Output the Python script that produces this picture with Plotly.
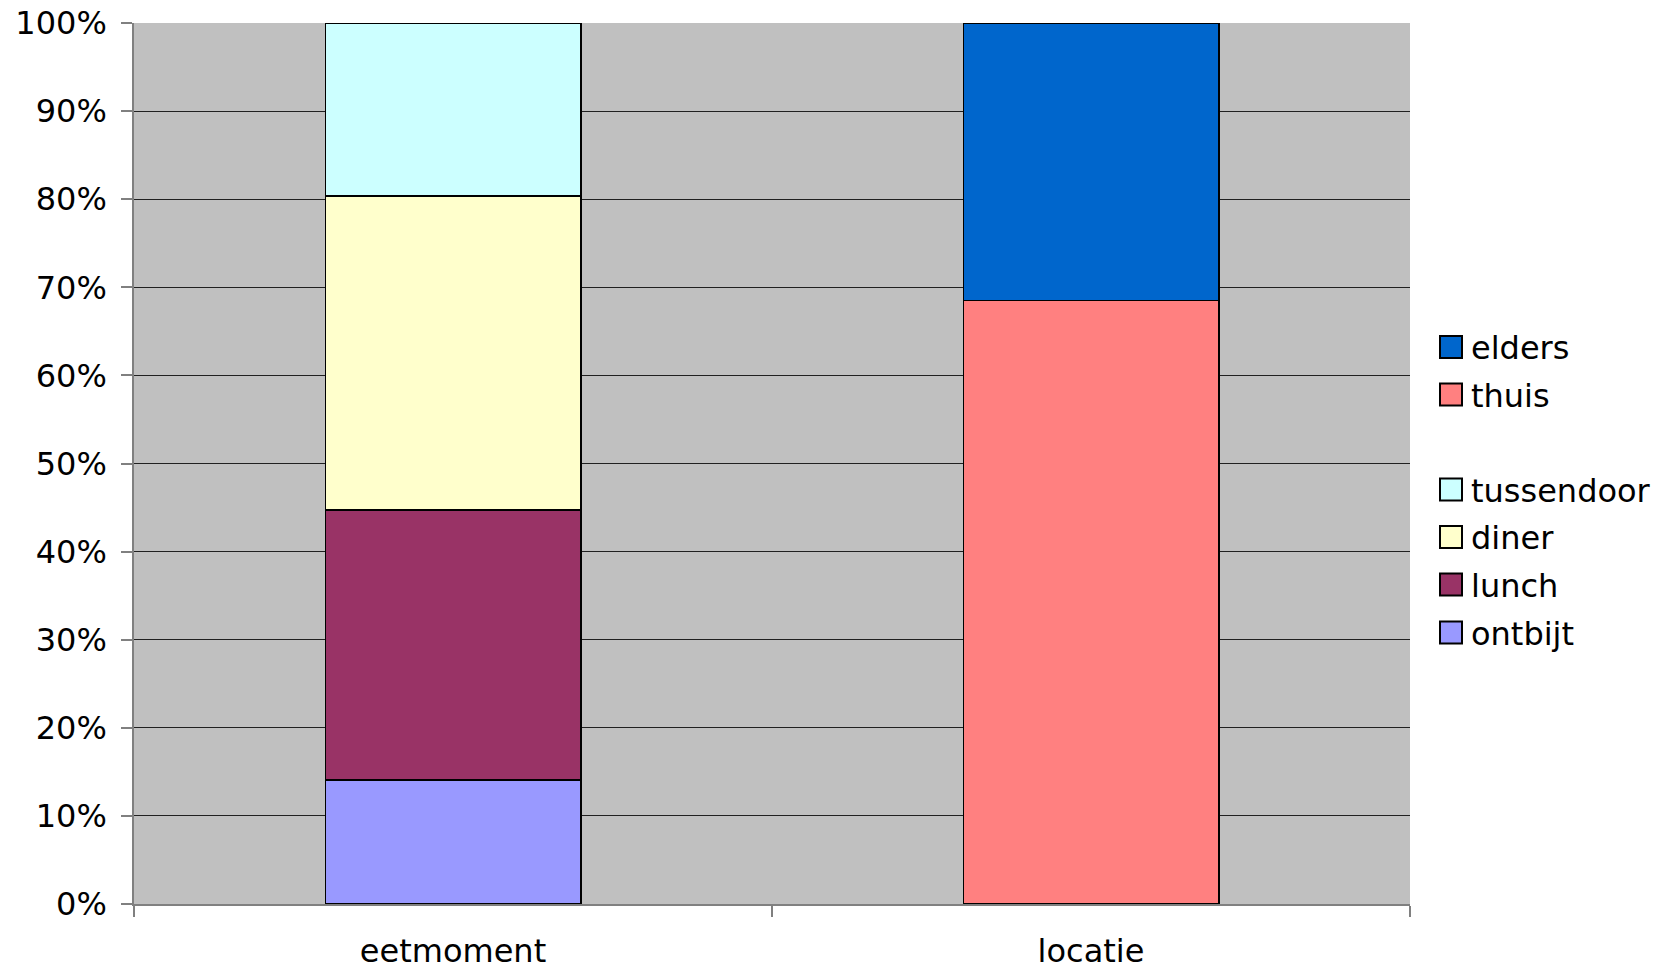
import plotly.graph_objects as go

categories = ["eetmoment", "locatie"]
ontbijt = [0.141, 0.0]
lunch = [0.306, 0.0]
diner = [0.357, 0.0]
tussendoor = [0.196, 0.0]
thuis = [0.0, 0.685]
elders = [0.0, 0.315]

series = [
    ("ontbijt", ontbijt, "#9999FF"),
    ("lunch", lunch, "#993366"),
    ("diner", diner, "#FFFFCC"),
    ("tussendoor", tussendoor, "#CCFFFF"),
    ("thuis", thuis, "#FF8080"),
    ("elders", elders, "#0066CC"),
]

W, H = 1654, 971
L, R, T, B = 134, 244, 23, 67
pw = W - L - R
ph = H - T - B

font_family = "DejaVu Sans"
fsize = 32

# legend item centres (pixels from top) and left edge
legend_y_px = {"elders": 347, "thuis": 394.5, "tussendoor": 489.5,
               "diner": 537, "lunch": 584.5, "ontbijt": 632.5}
legend_left_px = 1431
sym_cx = 1451
sym_half = 11

fig = go.Figure()
layout_legends = {}
shapes = []
for i, (name, vals, col) in enumerate(series):
    lg = "legend" if i == 0 else f"legend{i+1}"
    fig.add_trace(go.Bar(
        x=categories, y=vals, name=name,
        marker=dict(color=col, line=dict(color="black", width=1.8)),
        showlegend=False, width=0.4,
    ))
    fig.add_trace(go.Scatter(
        x=[None], y=[None], mode="markers", name=name,
        marker=dict(symbol="square", size=16, color="rgba(0,0,0,0)",
                    line=dict(color="rgba(0,0,0,0)", width=0)),
        legend=lg, showlegend=True,
    ))
    yc = legend_y_px[name]
    layout_legends[lg] = dict(
        x=(legend_left_px - L) / pw,
        y=(H - B - yc) / ph,
        xanchor="left", yanchor="middle",
        bgcolor="rgba(0,0,0,0)",
        font=dict(family=font_family, size=fsize, color="black"),
        itemwidth=30,
    )
    shapes.append(dict(
        type="rect", xref="paper", yref="paper",
        x0=(sym_cx - sym_half - L) / pw, x1=(sym_cx + sym_half - L) / pw,
        y0=(H - B - yc - sym_half) / ph, y1=(H - B - yc + sym_half) / ph,
        fillcolor=col, line=dict(color="black", width=2),
    ))

fig.update_layout(
    width=W, height=H,
    margin=dict(l=L, r=R, t=T, b=B, autoexpand=False),
    barmode="stack",
    bargap=0.6,
    paper_bgcolor="white",
    plot_bgcolor="#C0C0C0",
    font=dict(family=font_family, size=fsize, color="black"),
    shapes=shapes,
    xaxis=dict(
        type="category",
        tickson="boundaries",
        ticks="outside", ticklen=11, tickcolor="#808080", tickwidth=1.5,
        showline=True, linecolor="#808080", linewidth=1.5,
        showgrid=False,
        tickfont=dict(family=font_family, size=fsize, color="black"),
        ticklabelstandoff=18,
    ),
    yaxis=dict(
        range=[0, 1], dtick=0.1, tickformat=".0%",
        ticks="outside", ticklen=11, tickcolor="#808080", tickwidth=1.5,
        showline=True, linecolor="#808080", linewidth=1.5,
        showgrid=True, gridcolor="#202020", gridwidth=1,
        zeroline=False,
        tickfont=dict(family=font_family, size=fsize, color="black"),
        ticklabelstandoff=8,
    ),
    **layout_legends,
)

fig.write_html("out.html")
